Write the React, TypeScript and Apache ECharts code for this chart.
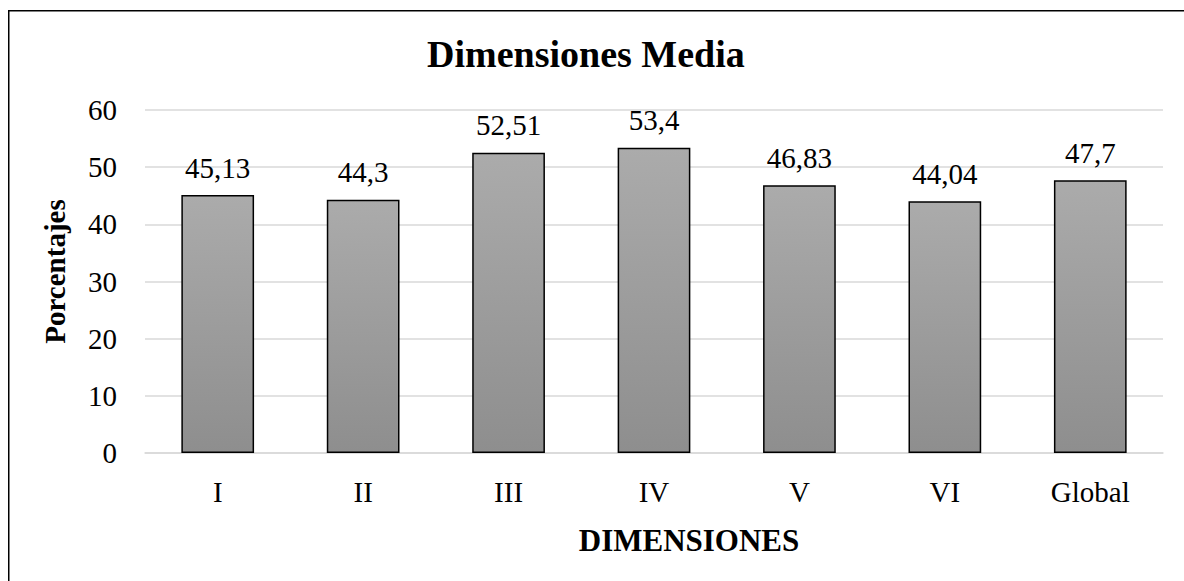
import React, { useEffect, useRef } from "react";
import * as echarts from "echarts";

const categories = ["I", "II", "III", "IV", "V", "VI", "Global"];
const values = [45.13, 44.3, 52.51, 53.4, 46.83, 44.04, 47.7];
const yTicks = [0, 10, 20, 30, 40, 50, 60];

const FONT = "'Liberation Serif', 'Times New Roman', serif";

export default function App() {
  const ref = useRef<HTMLDivElement>(null);
  useEffect(() => {
    document.body.style.margin = "0";
    const chart = echarts.init(ref.current!, null, { renderer: "svg" });
    chart.setOption({
      animation: false,
      backgroundColor: "#ffffff",
      textStyle: { fontFamily: FONT },
      title: {
        text: "Dimensiones Media",
        left: 422,
        top: 30,
        textStyle: { fontFamily: FONT, fontSize: 38, fontWeight: "bold", color: "#000" },
      },
      grid: { left: 145, right: 21, top: 110, bottom: 128 },
      xAxis: {
        type: "category",
        data: categories,
        name: "DIMENSIONES",
        nameLocation: "middle",
        nameGap: 72,
        nameTextStyle: {
          fontFamily: FONT,
          fontSize: 31,
          fontWeight: "bold",
          color: "#000",
          padding: [0, 0, 0, 70],
        },
        axisLine: { show: true, lineStyle: { color: "#d9d9d9", width: 1.5 } },
        axisTick: { show: false },
        axisLabel: { fontFamily: FONT, fontSize: 29, color: "#000", margin: 24 },
      },
      yAxis: {
        type: "value",
        min: yTicks[0],
        max: yTicks[yTicks.length - 1],
        interval: 10,
        name: "Porcentajes",
        nameLocation: "middle",
        nameGap: 76,
        nameTextStyle: {
          fontFamily: FONT,
          fontSize: 29,
          fontWeight: "bold",
          color: "#000",
          padding: [0, 0, 0, 20],
        },
        axisLine: { show: false },
        axisTick: { show: false },
        axisLabel: { fontFamily: FONT, fontSize: 29, color: "#000", margin: 28 },
        splitLine: { lineStyle: { color: "#d9d9d9", width: 1.5 } },
      },
      series: [
        {
          type: "bar",
          data: values,
          barWidth: "50%",
          itemStyle: {
            color: new echarts.graphic.LinearGradient(0, 0, 0, 1, [
              { offset: 0, color: "#ababab" },
              { offset: 1, color: "#8e8e8e" },
            ]),
            borderColor: "#000",
            borderWidth: 1.5,
          },
          label: {
            show: true,
            position: "top",
            distance: 13,
            fontFamily: FONT,
            fontSize: 29,
            color: "#000",
            formatter: (p: any) => String(p.value).replace(".", ","),
          },
        },
      ],
      graphic: [
        {
          type: "rect",
          shape: { x: 8.75, y: 10.75, width: 1300, height: 700 },
          style: { fill: "none", stroke: "#000", lineWidth: 1.5 },
          silent: true,
        },
      ],
    });
    return () => chart.dispose();
  }, []);
  return <div ref={ref} style={{ width: 1184, height: 581 }} />;
}
